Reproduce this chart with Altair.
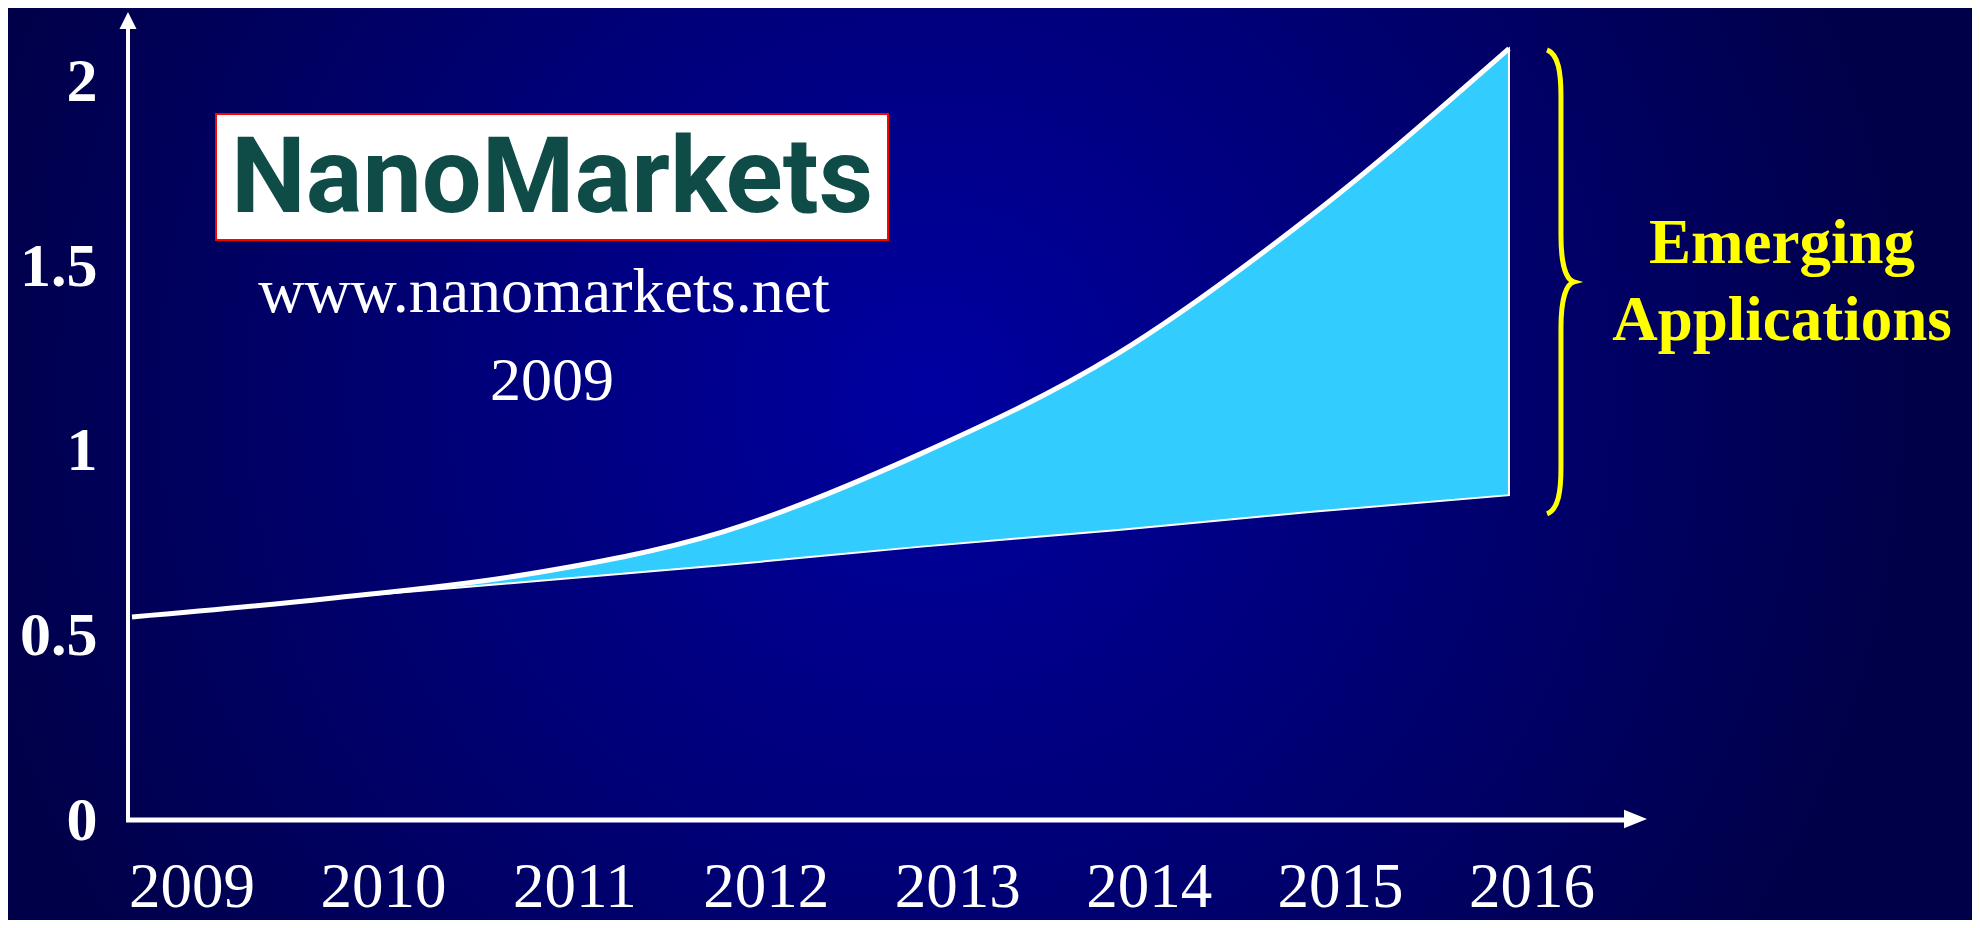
import altair as alt
import pandas as pd

# ---- data ----
years = [2009, 2010, 2011, 2012, 2013, 2014, 2015, 2016]
upper = [0.55, 0.60, 0.665, 0.78, 0.99, 1.26, 1.64, 2.09]   # total market
lower = [0.55, 0.60, 0.645, 0.69, 0.74, 0.785, 0.835, 0.88]  # existing applications
year_labels = [str(y) for y in years]
y_ticks = [0, 0.5, 1, 1.5, 2]

logo_text = "NanoMarkets"
url_text = "www.nanomarkets.net"
source_year = "2009"
brace_lines = ["Emerging", "Applications"]

W, H = 1844, 812
SERIF = "Liberation Serif"

df = pd.DataFrame({"year": years, "upper": upper, "lower": lower})
lab_df = pd.DataFrame({"year": years, "label": year_labels})
brace_df = pd.DataFrame({"year": [years[-1]], "mid": [(upper[-1] + lower[-1]) / 2]})
em_df = pd.DataFrame({"t": brace_lines, "row": [0, 1]})

xscale = alt.Scale(domain=[2008.9797, 2018.3539], nice=False, zero=False)
lscale = alt.Scale(domain=[2008.6657, 2018.2985], nice=False, zero=False)
yscale = alt.Scale(domain=[0, 2.2], nice=False, zero=True)

one = alt.Data(values=[{"a": 1}])

bg = alt.Chart(one).mark_rect(
    fill=alt.RadialGradient(
        gradient="radial",
        stops=[alt.GradientStop(color="#0000A2", offset=0),
               alt.GradientStop(color="#000048", offset=1)],
        x1=0.465, y1=0.494, r1=0, x2=0.465, y2=0.494, r2=0.5,
    )
).encode(x=alt.value(-128), x2=alt.value(1872), y=alt.value(-300), y2=alt.value(1100))

logo_box = alt.Chart(one).mark_rect(fill="white", stroke="#FF0000", strokeWidth=2).encode(
    x=alt.value(88), x2=alt.value(760), y=alt.value(106), y2=alt.value(232))

logo = alt.Chart(one).mark_text(
    text=logo_text, font="Roboto", fontWeight="bold", fontSize=106, color="#0F4C48",
    align="center", baseline="alphabetic"
).encode(x=alt.value(424), y=alt.value(204))

url = alt.Chart(one).mark_text(
    text=url_text, font=SERIF, fontSize=64, color="white", align="center", baseline="alphabetic"
).encode(x=alt.value(416), y=alt.value(304))

src = alt.Chart(one).mark_text(
    text=source_year, font=SERIF, fontSize=62, color="white", align="center", baseline="alphabetic"
).encode(x=alt.value(424), y=alt.value(392))

area = alt.Chart(df).mark_area(
    color="#33CCFF", opacity=1, stroke="white", strokeWidth=2, interpolate="monotone"
).encode(
    x=alt.X("year:Q", scale=xscale, axis=None),
    y=alt.Y("upper:Q", scale=yscale, axis=alt.Axis(
        values=y_ticks, format="~g", title=None, grid=False, ticks=False, domain=False,
        labelFont=SERIF, labelFontWeight="bold", labelFontSize=62, labelColor="white",
        labelPadding=31, labelBaseline="middle", zindex=2)),
    y2="lower:Q",
)

top_line = alt.Chart(df).mark_line(color="white", strokeWidth=5, interpolate="monotone").encode(
    x=alt.X("year:Q", scale=xscale, axis=None),
    y=alt.Y("upper:Q", scale=yscale, axis=None),
)

y_rule = alt.Chart(one).mark_rule(color="white", strokeWidth=4).encode(
    x=alt.value(0), y=alt.value(17), y2=alt.value(814))
x_rule = alt.Chart(one).mark_rule(color="white", strokeWidth=5).encode(
    x=alt.value(-2), x2=alt.value(1500), y=alt.value(812))

up_arrow = alt.Chart(one).mark_point(
    shape="M0,-1L1,1L-1,1Z", filled=True, color="white", opacity=1, size=289, strokeWidth=0
).encode(x=alt.value(0), y=alt.value(12.5))
right_arrow = alt.Chart(one).mark_point(
    shape="M1,0L-1,-0.8L-1,0.8Z", filled=True, color="white", opacity=1, size=529, strokeWidth=0
).encode(x=alt.value(1507.5), y=alt.value(811))

brace = alt.Chart(brace_df).mark_point(
    shape="M-0.06,-1C-0.01,-0.98,0,-0.9,0,-0.8L0,-0.2C0,-0.08,0.02,-0.01,0.056,0"
          "C0.02,0.01,0,0.08,0,0.2L0,0.8C0,0.9,-0.01,0.98,-0.06,1",
    filled=False, stroke="#FFFF00", strokeWidth=5, opacity=1, size=215296,
    xOffset=52, yOffset=10,
).encode(
    x=alt.X("year:Q", scale=xscale, axis=None),
    y=alt.Y("mid:Q", scale=yscale, axis=None),
)

em_text = alt.Chart(em_df).mark_text(
    font=SERIF, fontWeight="bold", fontSize=63, color="#FFFF00", align="center",
    baseline="alphabetic"
).encode(
    x=alt.value(1654),
    y=alt.Y("row:Q", scale=alt.Scale(domain=[0, 1], range=[255, 332]), axis=None),
    text="t:N",
)

xlabels = alt.Chart(lab_df).mark_text(
    font=SERIF, fontSize=63, color="white", align="center", baseline="alphabetic"
).encode(
    x=alt.X("year:Q", scale=lscale, axis=None),
    y=alt.value(899),
    text="label:N",
)

chart = alt.layer(
    bg, logo_box, logo, url, src, area, top_line, y_rule, x_rule, up_arrow, right_arrow,
    brace, em_text, xlabels
).resolve_scale(x="independent", y="independent").properties(
    width=W, height=H,
    autosize=alt.AutoSizeParams(type="none"),
    padding={"left": 120, "top": 0, "right": 0, "bottom": 100},
    background="#000048",
).configure_view(strokeWidth=0)

chart.save("out.html", embed_options={"renderer": "svg", "actions": False})
